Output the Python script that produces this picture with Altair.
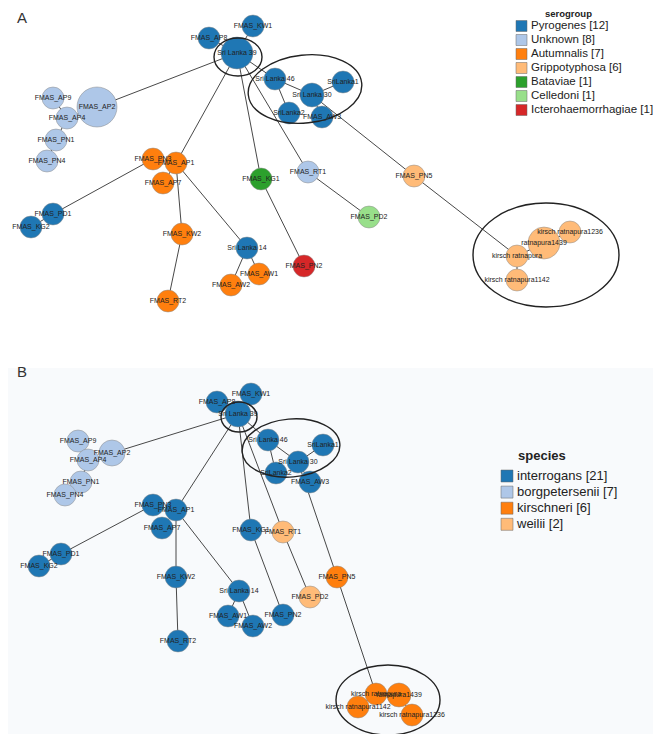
import altair as alt
import pandas as pd

# ---------------- data ----------------
serogroups = ["Pyrogenes", "Unknown", "Autumnalis", "Grippotyphosa", "Bataviae", "Celledoni", "Icterohaemorrhagiae"]
serogroup_counts = [12, 8, 7, 6, 1, 1, 1]
serogroup_colors = ["#1f77b4", "#aec7e8", "#ff7f0e", "#ffbb78", "#2ca02c", "#98df8a", "#d62728"]

species = ["interrogans", "borgpetersenii", "kirschneri", "weilii"]
species_counts = [21, 7, 6, 2]
species_colors = ["#1f77b4", "#aec7e8", "#ff7f0e", "#ffbb78"]

# Panel A (serogroup) network layout
a_names = ["FMAS_KW1", "FMAS_AP8", "Sri Lanka 39", "Sri Lanka 46", "SriLanka1", "Sri Lanka 30", "SriLanka2",
           "FMAS_AW3", "FMAS_AP2", "FMAS_AP9", "FMAS_AP4", "FMAS_PN1", "FMAS_PN4", "FMAS_PN3", "FMAS_AP1",
           "FMAS_AP7", "FMAS_KG1", "FMAS_RT1", "FMAS_PD2", "FMAS_PD1", "FMAS_KG2", "FMAS_KW2", "Sri Lanka 14",
           "FMAS_AW1", "FMAS_AW2", "FMAS_PN2", "FMAS_RT2", "FMAS_PN5", "kirsch ratnapura1236", "ratnapura1439",
           "kirsch ratnapura", "kirsch ratnapura1142"]
a_x = [253, 209, 237, 275, 343, 312, 289, 322, 97, 53, 67, 56, 47, 153, 176, 163, 261, 308, 369, 53, 31, 182,
       247, 259, 231, 304, 168, 414, 570, 544, 517, 517]
a_y = [26, 38, 53, 79, 82, 95, 113, 117, 107, 98, 118, 140, 161, 159, 163, 183, 179, 172, 217, 214, 227, 234,
       248, 274, 285, 266, 301, 176, 232, 243, 256, 280]
a_r = [11, 11, 16, 11, 11, 12, 11, 11, 20, 11, 11, 11, 11, 11, 11, 11, 11, 11, 11, 11, 11, 11, 11, 11, 11, 11,
       11, 11, 11, 16, 11, 11]
a_group = ["Pyrogenes", "Pyrogenes", "Pyrogenes", "Pyrogenes", "Pyrogenes", "Pyrogenes", "Pyrogenes",
           "Pyrogenes", "Unknown", "Unknown", "Unknown", "Unknown", "Unknown", "Autumnalis", "Autumnalis",
           "Autumnalis", "Bataviae", "Unknown", "Celledoni", "Pyrogenes", "Pyrogenes", "Autumnalis", "Pyrogenes",
           "Autumnalis", "Autumnalis", "Icterohaemorrhagiae", "Autumnalis", "Grippotyphosa", "Grippotyphosa",
           "Grippotyphosa", "Grippotyphosa", "Grippotyphosa"]

# Panel B (species) network layout
b_names = ["FMAS_AP8", "FMAS_KW1", "Sri Lanka 39", "Sri Lanka 46", "SriLanka1", "Sri Lanka 30", "SriLanka2",
           "FMAS_AW3", "FMAS_AP9", "FMAS_AP2", "FMAS_AP4", "FMAS_PN1", "FMAS_PN4", "FMAS_PN3", "FMAS_AP1",
           "FMAS_AP7", "FMAS_KG1", "FMAS_RT1", "FMAS_PD1", "FMAS_KG2", "FMAS_KW2", "Sri Lanka 14", "FMAS_AW1",
           "FMAS_AW2", "FMAS_PN2", "FMAS_PD2", "FMAS_PN5", "FMAS_RT2", "kirsch ratnapura", "ratnapura1439",
           "kirsch ratnapura1142", "kirsch ratnapura1236"]
b_x = [217, 251, 238, 268, 323, 298, 276, 310, 78, 112, 88, 81, 65, 153, 176, 162, 251, 283, 61, 39, 176, 239,
       228, 253, 283, 310, 337, 178, 376, 399, 358, 412]
b_y = [402, 394, 414, 440, 445, 462, 473, 482, 441, 453, 460, 482, 495, 505, 510, 528, 530, 532, 554, 566, 577,
       591, 616, 626, 615, 597, 577, 641, 694, 695, 707, 715]
b_r = [11, 11, 13, 11, 11, 11, 11, 11, 11, 13, 11, 11, 11, 11, 11, 11, 11, 11, 11, 11, 11, 11, 11, 11, 11, 11,
       11, 11, 11, 12, 11, 11]
b_group = ["interrogans", "interrogans", "interrogans", "interrogans", "interrogans", "interrogans",
           "interrogans", "interrogans", "borgpetersenii", "borgpetersenii", "borgpetersenii", "borgpetersenii",
           "borgpetersenii", "interrogans", "interrogans", "interrogans", "interrogans", "weilii", "interrogans",
           "interrogans", "interrogans", "interrogans", "interrogans", "interrogans", "interrogans", "weilii",
           "kirschneri", "interrogans", "kirschneri", "kirschneri", "kirschneri", "kirschneri"]

# Edges (same topology in both panels)
edge_src = ["Sri Lanka 39", "Sri Lanka 39", "Sri Lanka 39", "Sri Lanka 39", "Sri Lanka 39", "Sri Lanka 39",
            "Sri Lanka 39", "Sri Lanka 46", "Sri Lanka 46", "Sri Lanka 30", "Sri Lanka 30", "Sri Lanka 30",
            "FMAS_PN5", "kirsch ratnapura", "ratnapura1439", "kirsch ratnapura", "FMAS_RT1", "FMAS_KG1",
            "FMAS_PN3", "FMAS_PD1", "FMAS_PN3", "FMAS_AP1", "FMAS_AP1", "FMAS_KW2", "FMAS_AP1", "Sri Lanka 14",
            "Sri Lanka 14", "FMAS_AP2", "FMAS_AP4", "FMAS_AP4", "FMAS_PN1"]
edge_dst = ["FMAS_AP2", "FMAS_AP1", "FMAS_KG1", "FMAS_RT1", "Sri Lanka 46", "FMAS_KW1", "FMAS_AP8",
            "Sri Lanka 30", "SriLanka2", "SriLanka1", "FMAS_AW3", "FMAS_PN5", "kirsch ratnapura",
            "ratnapura1439", "kirsch ratnapura1236", "kirsch ratnapura1142", "FMAS_PD2", "FMAS_PN2", "FMAS_PD1",
            "FMAS_KG2", "FMAS_AP1", "FMAS_AP7", "FMAS_KW2", "FMAS_RT2", "Sri Lanka 14", "FMAS_AW1", "FMAS_AW2",
            "FMAS_AP4", "FMAS_AP9", "FMAS_PN1", "FMAS_PN4"]

# Cluster ellipses (centre, radii, rotation)
ell_x = [238, 305, 546, 239, 291, 388]
ell_y = [57, 89, 255, 417, 448, 700]
ell_rx = [24, 57, 73, 18, 49, 52]
ell_ry = [19, 34, 52, 15, 29, 35]
ell_angle = [0, 354, 0, 0, 355, 0]

# ---------------- build tables ----------------
def nodes_table(names, xs, ys, rs, groups):
    df = pd.DataFrame({"name": names, "x": xs, "y": ys, "r": rs, "group": groups})
    df["size"] = (2 * df["r"]) ** 2
    return df


def edges_table(names, xs, ys):
    pos = {n: (x, y) for n, x, y in zip(names, xs, ys)}
    return pd.DataFrame({
        "x": [pos[s][0] for s in edge_src], "y": [pos[s][1] for s in edge_src],
        "x2": [pos[d][0] for d in edge_dst], "y2": [pos[d][1] for d in edge_dst],
    })


def ellipse_path(a):
    k = 0.5523
    return (f"M 1 0 C 1 {k*a:.4f} {k} {a:.4f} 0 {a:.4f} C {-k} {a:.4f} -1 {k*a:.4f} -1 0 "
            f"C -1 {-k*a:.4f} {-k} {-a:.4f} 0 {-a:.4f} C {k} {-a:.4f} 1 {-k*a:.4f} 1 0 Z")


nodes = pd.concat([nodes_table(a_names, a_x, a_y, a_r, a_group),
                   nodes_table(b_names, b_x, b_y, b_r, b_group)], ignore_index=True)
edges = pd.concat([edges_table(a_names, a_x, a_y), edges_table(b_names, b_x, b_y)], ignore_index=True)
ellipses = pd.DataFrame({"x": ell_x, "y": ell_y, "rx": ell_rx, "ry": ell_ry, "angle": ell_angle})
ellipses["size"] = (2 * ellipses["rx"]) ** 2
ellipses["path"] = [ellipse_path(ry / rx) for rx, ry in zip(ell_rx, ell_ry)]

legend_a = pd.DataFrame({
    "group": serogroups,
    "label": [f"{g} [{c}]" for g, c in zip(serogroups, serogroup_counts)],
    "x": 521.5,
    "y": [26 + 14.0 * i for i in range(len(serogroups))],
})
legend_a["tx"] = 531
legend_b = pd.DataFrame({
    "group": species,
    "label": [f"{g} [{c}]" for g, c in zip(species, species_counts)],
    "x": 507,
    "y": [476 + 16.1 * i for i in range(len(species))],
})
legend_b["tx"] = 517

titles = pd.DataFrame({"text": ["serogroup", "species"], "x": [545, 518], "y": [13.5, 456]})
panels = pd.DataFrame({"text": ["A", "B"], "x": [17, 17], "y": [18, 372]})

# ---------------- scales ----------------
W, H = 645, 726
xs = alt.Scale(domain=[8, 8 + W], nice=False, zero=False)
ys = alt.Scale(domain=[8, 8 + H], nice=False, zero=False, reverse=True)
color_scale = alt.Scale(domain=serogroups + species, range=serogroup_colors + species_colors)
FONT = "Liberation Sans"

X = lambda f="x": alt.X(f"{f}:Q", scale=xs, axis=None)
Y = lambda f="y": alt.Y(f"{f}:Q", scale=ys, axis=None)

bg = alt.Chart(pd.DataFrame({"y": [368], "y2": [8 + H]})).mark_rect(color="#f8fafc").encode(
    x=alt.value(0), x2=alt.value(W), y=Y(), y2="y2:Q")

edge_layer = alt.Chart(edges).mark_rule(color="#333333", strokeWidth=0.9).encode(
    x=X(), y=Y(), x2="x2:Q", y2="y2:Q")

node_layer = alt.Chart(nodes).mark_circle(opacity=1, stroke="#8a8a8a", strokeWidth=0.5).encode(
    x=X(), y=Y(),
    color=alt.Color("group:N", scale=color_scale, legend=None),
    size=alt.Size("size:Q", scale=None, legend=None))

label_layer = alt.Chart(nodes).mark_text(font=FONT, fontSize=7, color="#222222", baseline="middle").encode(
    x=X(), y=Y(), text="name:N")

ellipse_layer = alt.Chart(ellipses).mark_point(filled=False, color="#222222", strokeWidth=1.4, opacity=1).encode(
    x=X(), y=Y(),
    shape=alt.Shape("path:N", scale=None, legend=None),
    size=alt.Size("size:Q", scale=None, legend=None),
    angle=alt.Angle("angle:Q", scale=None))


def legend_layers(df, sw, fs):
    sq = alt.Chart(df).mark_square(opacity=1, stroke="#666666", strokeWidth=0.5).encode(
        x=X(), y=Y(), color=alt.Color("group:N", scale=color_scale, legend=None),
        size=alt.value(sw * sw))
    tx = alt.Chart(df).mark_text(font=FONT, fontSize=fs, align="left", baseline="middle", color="#222222").encode(
        x=X("tx"), y=Y(), text="label:N")
    return sq + tx


leg_a = legend_layers(legend_a, 11, 11.5)
leg_b = legend_layers(legend_b, 12, 13)

title_layer = alt.layer(
    alt.Chart(titles.iloc[[0]]).mark_text(font=FONT, fontWeight="bold", fontSize=9.5, align="left",
                                          baseline="middle", color="#222222").encode(x=X(), y=Y(), text="text:N"),
    alt.Chart(titles.iloc[[1]]).mark_text(font=FONT, fontWeight="bold", fontSize=13, align="left",
                                          baseline="middle", color="#222222").encode(x=X(), y=Y(), text="text:N"),
)

panel_layer = alt.Chart(panels).mark_text(font=FONT, fontSize=15, align="left", baseline="middle",
                                          color="#333333").encode(x=X(), y=Y(), text="text:N")

chart = alt.layer(bg, edge_layer, node_layer, label_layer, ellipse_layer, leg_a, leg_b, title_layer,
                  panel_layer).properties(
    width=W, height=H, padding=0, autosize=alt.AutoSizeParams(type="none")
).configure_view(stroke=None)

chart.save("out.html", embed_options={"renderer": "svg", "actions": False})
